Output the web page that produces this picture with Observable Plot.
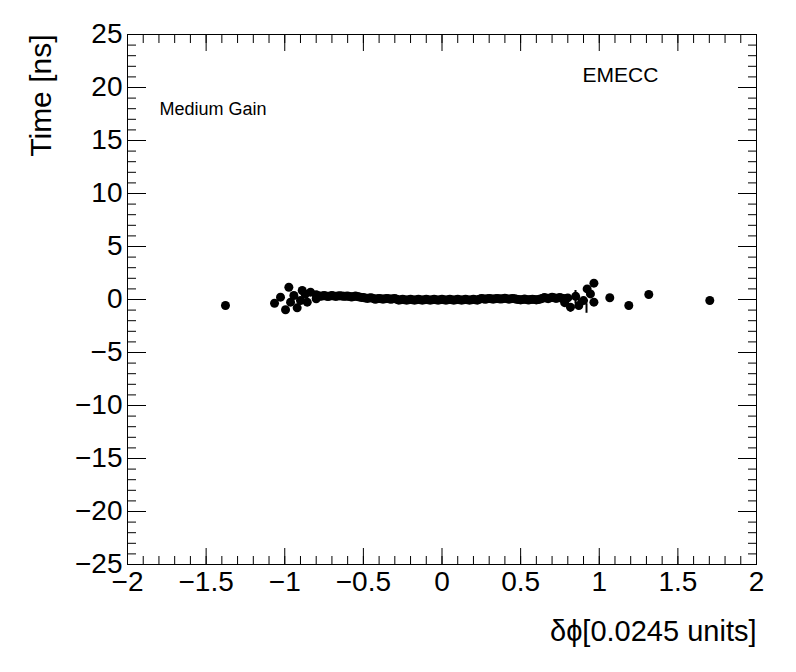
<!DOCTYPE html>
<html>
<head>
<meta charset="utf-8">
<script src="https://cdn.jsdelivr.net/npm/d3@7"></script>
<script src="https://cdn.jsdelivr.net/npm/@observablehq/plot@0.6"></script>
<style>
  html, body { margin: 0; padding: 0; background: #fff; }
  #chart svg { display: block; }
</style>
</head>
<body>
<div id="chart"></div>
<script>
// ---- data ----
// dense profile band (delta phi, time)
const bandX = [-0.800,-0.775,-0.750,-0.725,-0.700,-0.675,-0.650,-0.625,-0.600,-0.575,-0.550,-0.525,-0.500,-0.475,-0.450,-0.425,-0.400,-0.375,-0.350,-0.325,-0.300,-0.275,-0.250,-0.225,-0.200,-0.175,-0.150,-0.125,-0.100,-0.075,-0.050,-0.025,0.000,0.025,0.050,0.075,0.100,0.125,0.150,0.175,0.200,0.225,0.250,0.275,0.300,0.325,0.350,0.375,0.400,0.425,0.450,0.475,0.500,0.525,0.550,0.575,0.600,0.625,0.650,0.675,0.700,0.725,0.750,0.775,0.800];
const bandY = [0.45,0.30,0.38,0.28,0.37,0.29,0.36,0.30,0.33,0.24,0.32,0.24,0.18,0.10,0.17,0.02,0.10,0.03,0.09,0.02,0.09,-0.06,0.02,-0.06,0.02,-0.06,0.02,-0.06,0.02,-0.06,0.02,-0.06,0.02,-0.06,0.02,-0.06,0.02,-0.06,0.02,-0.06,0.02,-0.06,0.10,0.02,0.10,0.03,0.10,0.04,0.12,0.03,0.10,0.02,-0.04,0.04,-0.05,0.03,-0.04,0.05,0.18,0.08,0.22,0.10,0.20,0.05,0.15];
const bandMidX = [-0.7875,-0.7625,-0.7375,-0.7125,-0.6875,-0.6625,-0.6375,-0.6125,-0.5875,-0.5625,-0.5375,-0.5125,-0.4875,-0.4625,-0.4375,-0.4125,-0.3875,-0.3625,-0.3375,-0.3125,-0.2875,-0.2625,-0.2375,-0.2125,-0.1875,-0.1625,-0.1375,-0.1125,-0.0875,-0.0625,-0.0375,-0.0125,0.0125,0.0375,0.0625,0.0875,0.1125,0.1375,0.1625,0.1875,0.2125,0.2375,0.2625,0.2875,0.3125,0.3375,0.3625,0.3875,0.4125,0.4375,0.4625,0.4875,0.5125,0.5375,0.5625,0.5875,0.6125,0.6375,0.6625,0.6875,0.7125,0.7375,0.7625,0.7875];
const bandMidY = [0.36,0.33,0.33,0.32,0.33,0.32,0.33,0.31,0.28,0.28,0.28,0.20,0.14,0.14,0.10,0.06,0.06,0.06,0.06,0.06,0.02,-0.02,-0.02,-0.02,-0.02,-0.02,-0.02,-0.02,-0.02,-0.02,-0.02,-0.02,-0.02,-0.02,-0.02,-0.02,-0.02,-0.02,-0.02,-0.02,-0.02,0.02,0.06,0.06,0.06,0.06,0.07,0.08,0.08,0.06,0.06,0.00,0.00,0.00,-0.01,0.00,0.00,0.10,0.14,0.15,0.16,0.15,0.12,0.10];
// scattered points
const scatX = [-1.377,-1.065,-1.027,-0.974,-0.995,-0.921,-0.942,-0.963,-0.889,-0.836,-0.900,-0.857,-0.800,-0.870,0.966,0.923,0.944,0.900,0.817,0.966,0.870,0.850,0.780,1.067,1.188,1.315,1.703];
const scatY = [-0.57,-0.35,0.22,1.16,-0.97,-0.79,0.38,-0.25,0.85,0.69,-0.09,-0.25,0.07,0.50,1.54,1.00,0.53,-0.10,-0.72,-0.25,-0.57,0.30,-0.30,0.16,-0.57,0.47,-0.09];
// small error bars near the right edge of the band
const errX  = [0.849,0.817,0.919,0.870];
const errLo = [-0.40,-1.20,-1.30,-0.90];
const errHi = [0.85,-0.70,-0.40,0.20];
// axes
const xMajor = [-2,-1.5,-1,-0.5,0,0.5,1,1.5,2];
const yMajor = [-25,-20,-15,-10,-5,0,5,10,15,20,25];
const xTitle = "δϕ[0.0245 units]";
const yTitle = "Time [ns]";
const label1 = "Medium Gain";
const label2 = "EMECC";

const band = bandX.map((x, i) => ({x, y: bandY[i]}))
  .concat(bandMidX.map((x, i) => ({x, y: bandMidY[i]})));
const scat = scatX.map((x, i) => ({x, y: scatY[i]}));
const errs = errX.map((x, i) => ({x, lo: errLo[i], hi: errHi[i]}));
const xMinor = d3.range(-20, 21, 1).map(d => d / 10);
const yMinor = d3.range(-25, 26, 1);
const fmt = d => (d < 0 ? "\u2212" : "") + Math.abs(d);

const font = "'Liberation Sans', Arial, Helvetica, sans-serif";

const chart = Plot.plot({
  width: 796,
  height: 672,
  marginLeft: 127,
  marginRight: 40,
  marginTop: 34,
  marginBottom: 108,
  style: {fontFamily: font, background: "#fff", color: "#000"},
  x: {domain: [-2, 2]},
  y: {domain: [-25, 25]},
  marks: [
    // ticks inside the frame on all four sides
    Plot.axisX(xMinor, {anchor: "bottom", tickSize: -8, fill: "none", label: null}),
    Plot.axisX(xMajor, {anchor: "bottom", tickSize: -16, fill: "none", label: null}),
    Plot.axisX(xMinor, {anchor: "top", tickSize: -8, fill: "none", label: null}),
    Plot.axisX(xMajor, {anchor: "top", tickSize: -16, fill: "none", label: null}),
    Plot.axisY(yMinor, {anchor: "left", tickSize: -9, fill: "none", label: null}),
    Plot.axisY(yMajor, {anchor: "left", tickSize: -19, fill: "none", label: null}),
    Plot.axisY(yMinor, {anchor: "right", tickSize: -9, fill: "none", label: null}),
    Plot.axisY(yMajor, {anchor: "right", tickSize: -19, fill: "none", label: null}),
    // tick labels
    Plot.axisX(xMajor, {anchor: "bottom", tickSize: 0, tickPadding: 7, fontSize: 28, label: null, tickFormat: fmt}),
    Plot.axisY(yMajor, {anchor: "left", tickSize: 0, tickPadding: 5, fontSize: 28, label: null, tickFormat: fmt}),
    Plot.frame({stroke: "#000", strokeWidth: 1}),
    // data
    Plot.ruleX(errs, {x: "x", y1: "lo", y2: "hi", stroke: "#000", strokeWidth: 2}),
    Plot.dot(band, {x: "x", y: "y", r: 4.5, fill: "#000", stroke: null}),
    Plot.dot(scat, {x: "x", y: "y", r: 4.5, fill: "#000", stroke: null}),
    // titles and labels
    Plot.text([yTitle], {text: d => d, frameAnchor: "top-left", dx: -77, dy: 0, rotate: -90,
      textAnchor: "end", lineAnchor: "bottom", fontSize: 30, fill: "#000"}),
    Plot.text([xTitle], {text: d => d, frameAnchor: "bottom-right", dx: 0, dy: 76,
      textAnchor: "end", lineAnchor: "bottom", fontSize: 29, fill: "#000"}),
    Plot.text([label1], {text: d => d, frameAnchor: "top-left", dx: 32, dy: 80,
      textAnchor: "start", lineAnchor: "bottom", fontSize: 18, fill: "#000"}),
    Plot.text([label2], {text: d => d, frameAnchor: "top-left", dx: 455, dy: 47,
      textAnchor: "start", lineAnchor: "bottom", fontSize: 21, fill: "#000"})
  ]
});
document.getElementById("chart").appendChild(chart);
</script>
</body>
</html>
